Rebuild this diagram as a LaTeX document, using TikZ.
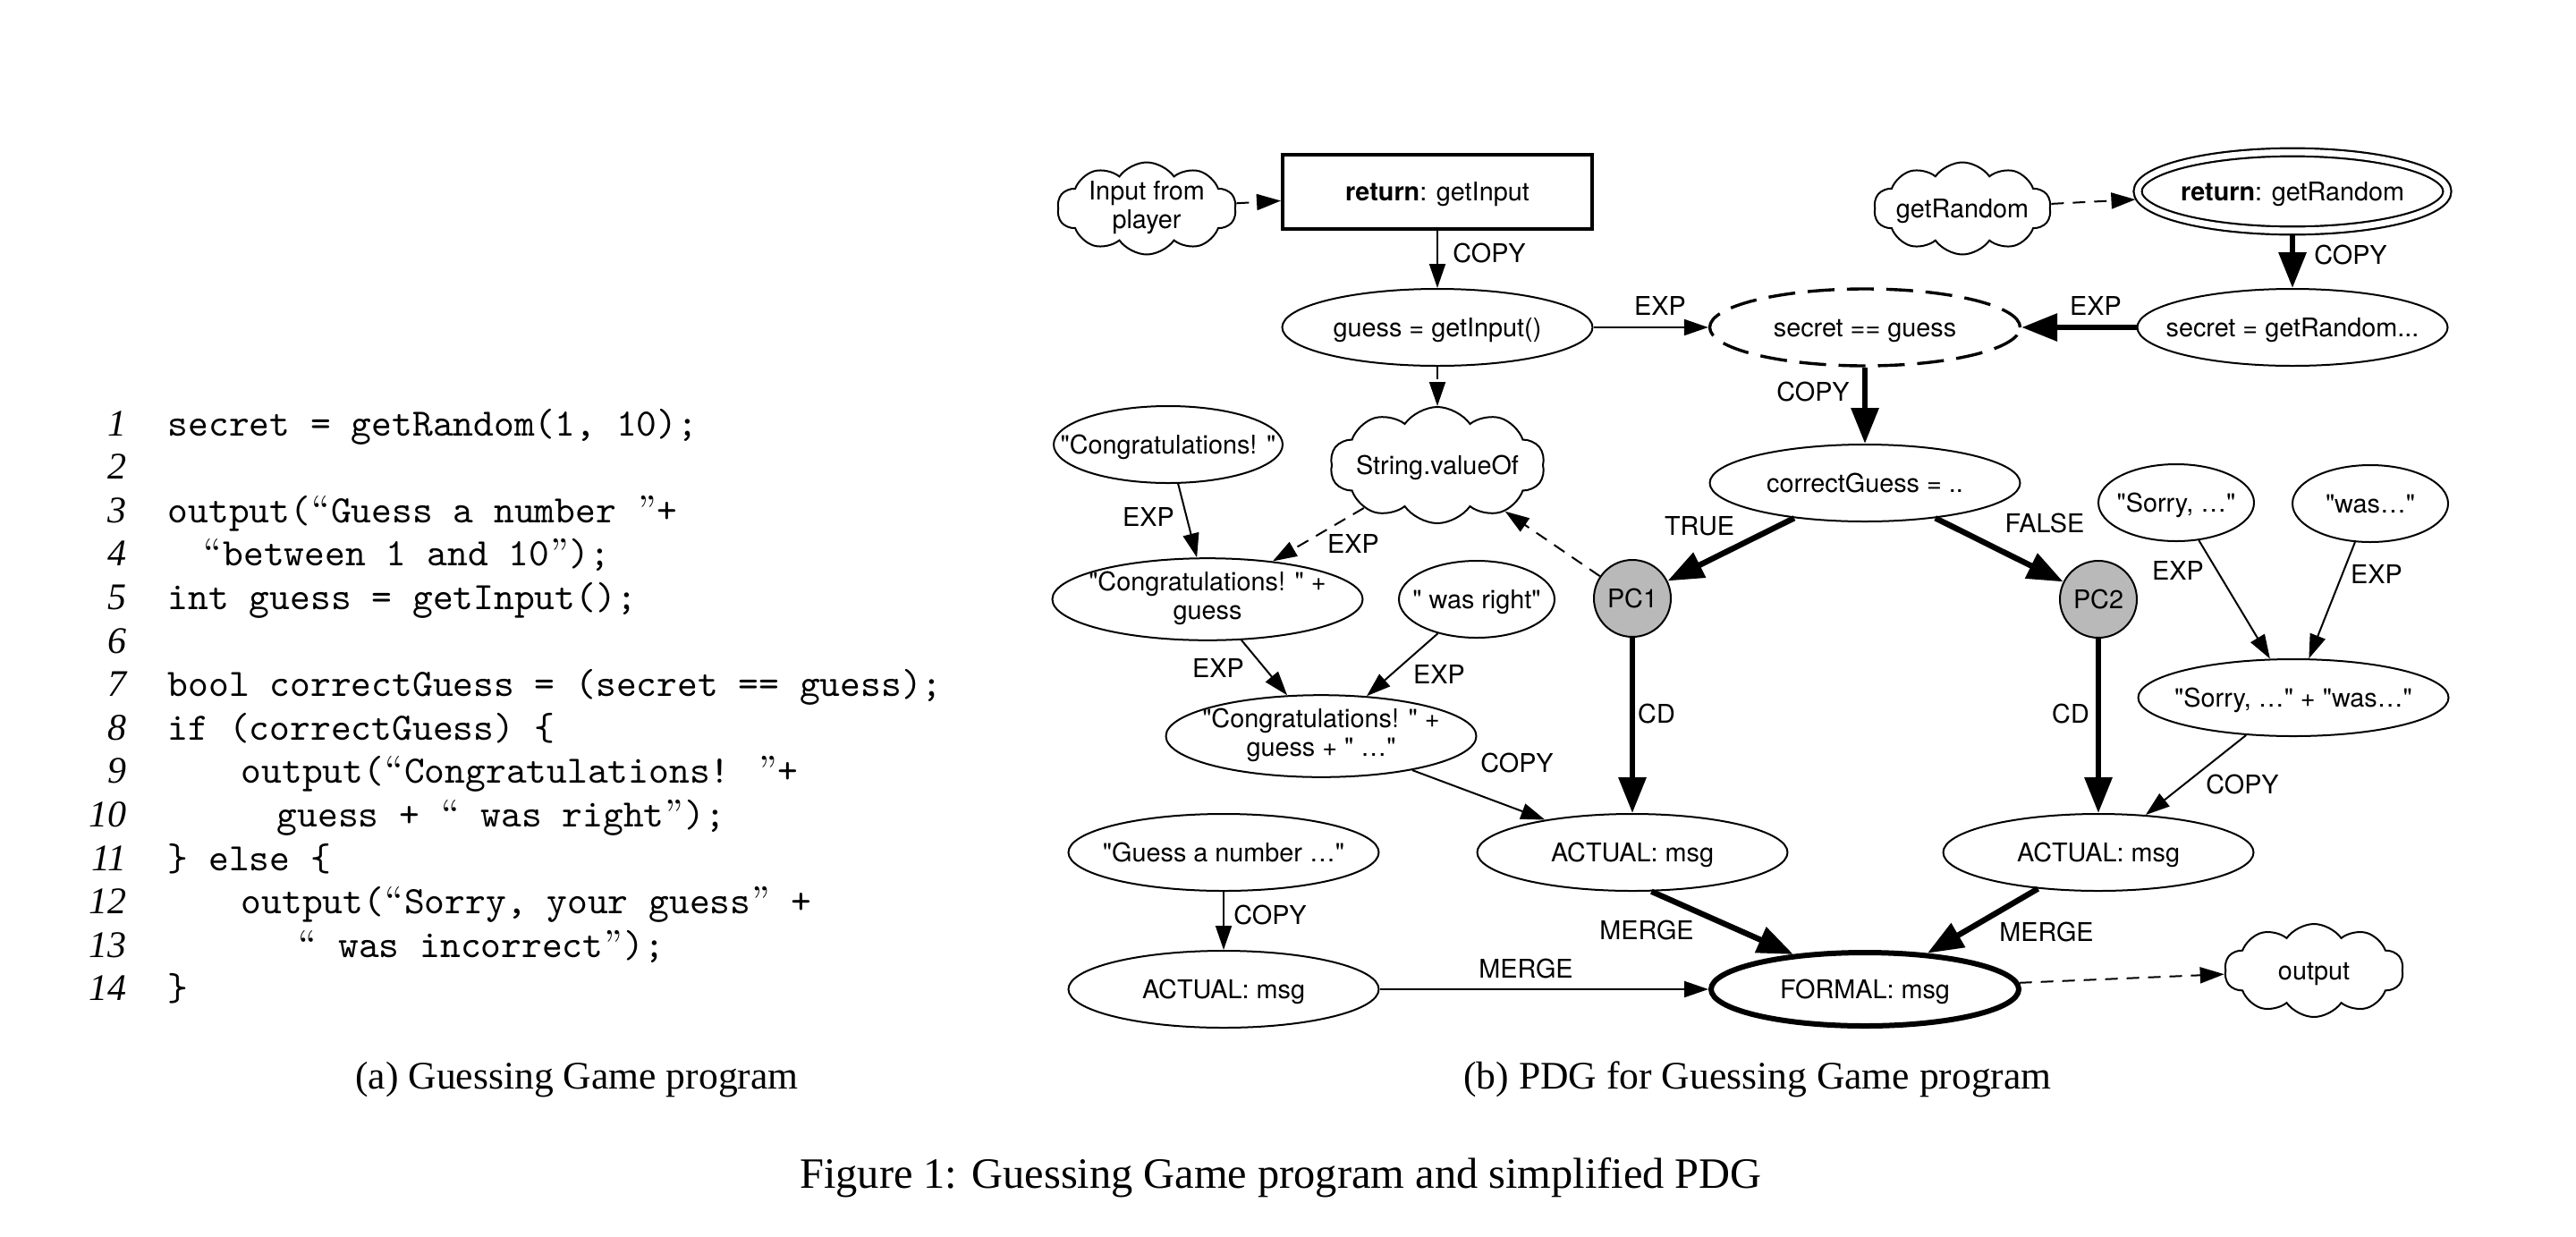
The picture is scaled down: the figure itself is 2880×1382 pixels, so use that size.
\documentclass[tikz,border=0pt]{standalone}
\usepackage{fontspec}
\setmainfont{Liberation Serif}
\setsansfont{TeX Gyre Heros}[Ligatures=TeXOff]
\newfontfamily\lmroman{Latin Modern Roman}
\usetikzlibrary{shapes.geometric,shapes.symbols,arrows.meta}
\definecolor{pcgray}{RGB}{185,185,185}
\newcommand{\zb}[1]{\makebox[0pt]{#1}}
\newcommand{\zt}[2]{\makebox[0pt]{\begin{tabular}{@{}c@{}}#1\\#2\end{tabular}}}
\newcommand{\dq}{\symbol{34}}
\newcommand{\qo}{\makebox[0.525em][c]{\lmroman “}}
\newcommand{\qc}{\makebox[0.525em][c]{\lmroman ”}}
\tikzset{
  nd/.style={draw, inner sep=0pt, line width=0.5pt, font=\sffamily\fontsize{7.2}{8.1}\selectfont},
  onel/.style={text height=5.2pt, text depth=0pt},
  el/.style={nd, ellipse, minimum width=86.75pt, minimum height=21.5pt},
  sel/.style={nd, ellipse, minimum width=43.5pt, minimum height=21.5pt},
  pcnode/.style={nd, circle, fill=pcgray, minimum size=21.5pt},
  cl/.style={nd, cloud, cloud puffs=10, cloud puff arc=110, cloud ignores aspect},
  lbl/.style={inner sep=0pt, text height=5.2pt, text depth=0pt, font=\sffamily\fontsize{7.2}{8.1}\selectfont},
  thn/.style={line width=0.5pt, -{Triangle[length=6.75pt,width=4.5pt]}},
  thk/.style={line width=1.6pt, -{Triangle[length=10pt,width=7.5pt]}},
  dsh/.style={thn, dash pattern=on 3.5pt off 2.5pt},
  lnum/.style={inner sep=0pt, anchor=base east, font=\itshape\fontsize{10.5}{12}\selectfont},
  codeln/.style={inner sep=0pt, anchor=base west, font=\ttfamily\fontsize{10.85}{12}\selectfont},
  capt/.style={inner sep=0pt, anchor=base, font=\fontsize{10.9}{12}\selectfont}
}
\begin{document}
\begin{tikzpicture}[x=0.25pt,y=-0.25pt]
\useasboundingbox (0,0) rectangle (2880,1382);

% ---------- program listing ----------
\foreach \i in {1,...,14} {
  \node[lnum] (n\i) at (142,{487+(\i-1)*48.6}) {\i};
}
\node[codeln] (c1) at (187,487) {secret = getRandom(1, 10);};
\node[codeln] (c3) at (187,584.2) {output(\qo Guess a number \qc+};
\node[codeln] (c4) at (226,632.8) {\qo between 1 and 10\qc);};
\node[codeln] (c5) at (187,681.4) {int guess = getInput();};
\node[codeln] (c7) at (187,778.6) {bool correctGuess = (secret == guess);};
\node[codeln] (c8) at (187,827.2) {if (correctGuess) \{};
\node[codeln] (c9) at (269,875.8) {output(\qo Congratulations! \qc+};
\node[codeln] (c10) at (309,924.4) {guess + \qo{} was right\qc);};
\node[codeln] (c11) at (187,973) {\} else \{};
\node[codeln] (c12) at (269,1021.6) {output(\qo Sorry, your guess\qc{} +};
\node[codeln] (c13) at (332,1070.2) {\qo{} was incorrect\qc);};
\node[codeln] (c14) at (187,1118.8) {\}};

% ---------- PDG nodes ----------
\node[cl, minimum width=50pt, minimum height=25.75pt] (inp) at (1282,233) {\zt{Input from}{player}};
\node[nd, rectangle, onel, line width=1pt, minimum width=86.5pt, minimum height=20.75pt] (retin) at (1607,214.5) {\zb{\textbf{return}: getInput}};
\node[el, onel] (guess) at (1607,366) {\zb{guess = getInput()}};
\node[cl, onel, minimum width=60pt, minimum height=32.5pt] (sv) at (1607,520) {\zb{String.valueOf}};
\node[el, onel, line width=0.85pt, dash pattern=on 7.5pt off 3.5pt] (secg) at (2085,366) {\zb{secret == guess}};
\node[cl, onel, minimum width=49.5pt, minimum height=25.75pt] (getr) at (2194,233) {\zb{getRandom}};
\node[el, onel, double, double distance=1.7pt, line width=0.55pt, minimum width=86.5pt, minimum height=21.9pt, outer sep=1.4pt] (retr) at (2563,214) {\zb{\textbf{return}: getRandom}};
\node[el, onel] (secr) at (2563,366) {\zb{secret = getRandom...}};
\node[el, onel] (cg) at (2085,540) {\zb{correctGuess = ..}};
\node[el, onel, minimum width=64pt] (cong) at (1306,497) {\zb{\dq Congratulations! \dq}};
\node[el] (congg) at (1350,670) {\zt{\dq Congratulations! \dq{} +}{guess}};
\node[sel, onel] (wasr) at (1651,670) {\zb{\dq{} was right\dq}};
\node[el] (conggw) at (1477,823) {\zt{\dq Congratulations! \dq{} +}{guess + \dq{} …\dq}};
\node[pcnode, onel] (pc1) at (1825,669) {PC1};
\node[pcnode, onel] (pc2) at (2346,670) {PC2};
\node[sel, onel] (sorry) at (2433,562) {\zb{\dq Sorry, …\dq}};
\node[sel, onel] (was) at (2650,563) {\zb{\dq was…\dq}};
\node[el, onel] (sw) at (2564,780) {\zb{\dq Sorry, …\dq{} + \dq was…\dq}};
\node[el, onel] (act1) at (1825,953) {\zb{ACTUAL: msg}};
\node[el, onel] (act2) at (2346,953) {\zb{ACTUAL: msg}};
\node[el, onel] (gn) at (1368,953) {\zb{\dq Guess a number …\dq}};
\node[el, onel] (act0) at (1368,1106) {\zb{ACTUAL: msg}};
\node[el, onel, line width=1.5pt, minimum width=86pt, minimum height=20.5pt] (formal) at (2085,1106) {\zb{FORMAL: msg}};
\node[cl, onel, minimum width=50pt, minimum height=26pt] (out) at (2587,1085) {\zb{output}};

% ---------- PDG edges ----------
\draw[dsh] (inp) -- (retin);
\draw[thn] (retin) -- (guess) node[lbl] at (1665,283) {COPY};
\draw[dsh] (guess) -- (sv);
\draw[thn] (guess) -- (secg) node[lbl] at (1856,342) {EXP};
\draw[dsh] (getr) -- (retr);
\draw[thk] (retr) -- (secr) node[lbl] at (2628,285) {COPY};
\draw[thk] (secr) -- (secg) node[lbl] at (2343,342) {EXP};
\draw[thk] (secg) -- (cg) node[lbl] at (2027,438) {COPY};
\draw[thk] (cg) -- (pc1) node[lbl] at (1900,588) {TRUE};
\draw[thk] (cg) -- (pc2) node[lbl] at (2286,585) {FALSE};
\draw[dsh] (pc1) -- (sv);
\draw[dsh] (sv) -- (congg) node[lbl] at (1513,608) {EXP};
\draw[thn] (cong) -- (congg) node[lbl] at (1284,578) {EXP};
\draw[thn] (congg) -- (conggw) node[lbl] at (1362,747) {EXP};
\draw[thn] (wasr) -- (conggw) node[lbl] at (1609,754) {EXP};
\draw[thn] (conggw) -- (act1) node[lbl] at (1696,853) {COPY};
\draw[thk] (pc1) -- (act1) node[lbl] at (1852,798) {CD};
\draw[thk] (pc2) -- (act2) node[lbl] at (2315,798) {CD};
\draw[thn] (sorry) -- (sw) node[lbl] at (2435,638) {EXP};
\draw[thn] (was) -- (sw) node[lbl] at (2657,642) {EXP};
\draw[thn] (sw) -- (act2) node[lbl] at (2507,877) {COPY};
\draw[thn] (gn) -- (act0) node[lbl] at (1420,1023) {COPY};
\draw[thn] (act0) -- (formal) node[lbl] at (1706,1083) {MERGE};
\draw[thk] (act1.-64) -- (formal.154) node[lbl] at (1841,1040) {MERGE};
\draw[thk] (act2.-149.5) -- (formal.30.4) node[lbl] at (2288,1042) {MERGE};
\draw[dsh] (formal) -- (out);

% ---------- captions ----------
\node[capt] (capa) at (645,1217) {(a) Guessing Game program};
\node[capt] (capb) at (1965,1217) {(b) PDG for Guessing Game program};
\node[capt, font=\fontsize{12.1}{14}\selectfont] (fig) at (1432,1328) {Figure 1: Guessing Game program and simplified PDG};
\end{tikzpicture}
\end{document}
